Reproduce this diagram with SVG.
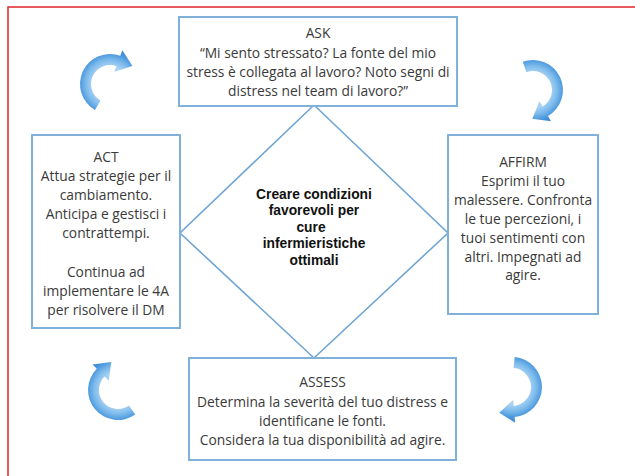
<svg xmlns="http://www.w3.org/2000/svg" width="635" height="476" viewBox="0 0 635 476">
<style>
.box{fill:#fff;stroke:#7fb1db;stroke-width:2}
.dia{fill:#fff;stroke:#6fa5d4;stroke-width:1.6}
.t{font-family:"Open Sans","Liberation Sans",sans-serif;font-size:13.8px;fill:#3a3a3a;text-anchor:middle}
.c{font-family:"Liberation Sans",Arial,sans-serif;font-size:13.8px;font-weight:bold;fill:#111;text-anchor:middle}
.arr{fill:url(#ag)}
</style>
<defs>
<radialGradient id="ag" gradientUnits="userSpaceOnUse" cx="0" cy="0" r="36">
<stop offset="0.5" stop-color="#a6d1f3"/>
<stop offset="0.66" stop-color="#7fbcec"/>
<stop offset="0.84" stop-color="#4a98de"/>
<stop offset="1" stop-color="#3885d2"/>
</radialGradient>
<path id="carrow" d="M30,0 A30,30 0 0 1 -29.54,5.21 L-35.45,6.25 L-26.73,-10.52 L-12.8,2.26 L-18.71,3.3 A19,19 0 0 0 19,0 Z"/>
</defs>
<rect width="635" height="476" fill="#fff"/>
<path d="M8,476 V7 H635" fill="none" stroke="#e0262b" stroke-width="1.5"/>

<g id="node-center">
<polygon class="dia" points="314,105 448,233 314,358 180,233"/>
<text class="c" x="314" y="198.5">Creare condizioni</text>
<text class="c" x="314" y="215">favorevoli per</text>
<text class="c" x="311" y="231.5">cure</text>
<text class="c" x="314" y="248">infermieristiche</text>
<text class="c" x="314" y="264.5">ottimali</text>
</g>

<g id="node-ask">
<rect class="box" x="179" y="17" width="278" height="89"/>
<text class="t" x="318" y="38">ASK</text>
<text class="t" x="318" y="57.5">“Mi sento stressato? La fonte del mio</text>
<text class="t" x="318" y="77">stress è collegata al lavoro? Noto segni di</text>
<text class="t" x="318" y="96">distress nel team di lavoro?”</text>
</g>

<g id="node-act">
<rect class="box" x="32" y="135" width="148" height="193"/>
<text class="t" x="106" y="162">ACT</text>
<text class="t" x="106" y="181">Attua strategie per il</text>
<text class="t" x="106" y="200">cambiamento.</text>
<text class="t" x="106" y="219">Anticipa e gestisci i</text>
<text class="t" x="106" y="238">contrattempi.</text>
<text class="t" x="106" y="277">Continua ad</text>
<text class="t" x="106" y="296">implementare le 4A</text>
<text class="t" x="106" y="315">per risolvere il DM</text>
</g>

<g id="node-affirm">
<rect class="box" x="448" y="135" width="150" height="179"/>
<text class="t" x="523" y="167">AFFIRM</text>
<text class="t" x="523" y="186">Esprimi il tuo</text>
<text class="t" x="523" y="205">malessere. Confronta</text>
<text class="t" x="523" y="224">le tue percezioni, i</text>
<text class="t" x="523" y="243">tuoi sentimenti con</text>
<text class="t" x="523" y="262">altri. Impegnati ad</text>
<text class="t" x="523" y="280">agire.</text>
</g>

<g id="node-assess">
<rect class="box" x="189" y="358" width="267" height="102"/>
<text class="t" x="322.5" y="387">ASSESS</text>
<text class="t" x="322.5" y="407">Determina la severità del tuo distress e</text>
<text class="t" x="322.5" y="426">identificane le fonti.</text>
<text class="t" x="322.5" y="445">Considera la tua disponibilità ad agire.</text>
</g>

<g id="connectors">
<use href="#carrow" class="arr" transform="translate(110,84) rotate(120)"/>
<use href="#carrow" class="arr" transform="translate(533,90) rotate(250)"/>
<use href="#carrow" class="arr" transform="translate(512,387) rotate(275)"/>
<use href="#carrow" class="arr" transform="translate(118,390) rotate(55)"/>
</g>
</svg>
